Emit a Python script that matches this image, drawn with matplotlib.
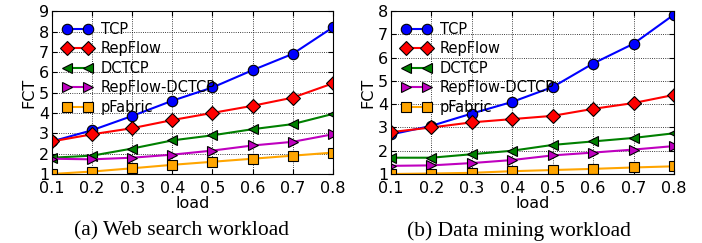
import matplotlib
matplotlib.use("Agg")
import matplotlib.pyplot as plt

load = [0.1, 0.2, 0.3, 0.4, 0.5, 0.6, 0.7, 0.8]
labels = ["TCP", "RepFlow", "DCTCP", "RepFlow-DCTCP", "pFabric"]

# (a) web search workload
web_tcp = [2.6, 3.15, 3.85, 4.6, 5.25, 6.1, 6.9, 8.2]
web_repflow = [2.6, 2.95, 3.25, 3.65, 4.0, 4.35, 4.75, 5.45]
web_dctcp = [1.8, 1.9, 2.25, 2.65, 2.9, 3.2, 3.45, 3.95]
web_repdctcp = [1.75, 1.72, 1.8, 1.95, 2.15, 2.4, 2.58, 2.95]
web_pfabric = [1.0, 1.12, 1.28, 1.45, 1.6, 1.75, 1.9, 2.05]

# (b) data mining workload
dm_tcp = [2.7, 3.07, 3.6, 4.1, 4.74, 5.75, 6.6, 7.85]
dm_repflow = [2.8, 3.0, 3.22, 3.36, 3.5, 3.8, 4.05, 4.4]
dm_dctcp = [1.7, 1.7, 1.85, 2.0, 2.25, 2.4, 2.55, 2.75]
dm_repdctcp = [1.35, 1.37, 1.47, 1.6, 1.8, 1.92, 2.05, 2.2]
dm_pfabric = [1.0, 1.02, 1.05, 1.12, 1.17, 1.22, 1.28, 1.33]

colors = ["blue", "red", "green", "m", "orange"]
markers = ["o", "D", "<", ">", "s"]

fig = plt.figure(figsize=(7.02, 2.43), dpi=100)
ax1 = fig.add_axes([0.074, 0.284, 0.400, 0.670])
ax2 = fig.add_axes([0.557, 0.284, 0.403, 0.670])

panels = [
    (ax1, [web_tcp, web_repflow, web_dctcp, web_repdctcp, web_pfabric], 9, "(a) Web search workload", 0.258),
    (ax2, [dm_tcp, dm_repflow, dm_dctcp, dm_repdctcp, dm_pfabric], 8, "(b) Data mining workload", 0.739),
]

for ax, series, ymax, caption, cx in panels:
    for ys, c, m, lab in zip(series, colors, markers, labels):
        ax.plot(load, ys, color=c, marker=m, markersize=7.5, markeredgecolor="black",
                markeredgewidth=0.8, linewidth=1.5, label=lab)
    ax.set_xlim(0.1, 0.8)
    ax.set_ylim(1, ymax)
    ax.set_xticks(load)
    ax.set_yticks(range(1, ymax + 1))
    ax.tick_params(direction="in", top=True, right=True, labelsize=11.5)
    ax.tick_params(axis="x", pad=5)
    ax.tick_params(axis="y", pad=2)
    ax.grid(True, color="black", linestyle=":", linewidth=0.6)
    ax.set_xlabel("load", fontsize=11.5, labelpad=0)
    ax.set_ylabel("FCT", fontsize=11.5, labelpad=2)
    ax.legend(loc="upper left", frameon=False, fontsize=10.5, numpoints=2,
              handlelength=2.0, labelspacing=0.3, borderaxespad=0.35, handletextpad=0.6)
    fig.text(cx, 0.01, caption, ha="center", va="bottom",
             fontsize=15.5, family="Liberation Serif")

fig.savefig("out.png", dpi=100)
